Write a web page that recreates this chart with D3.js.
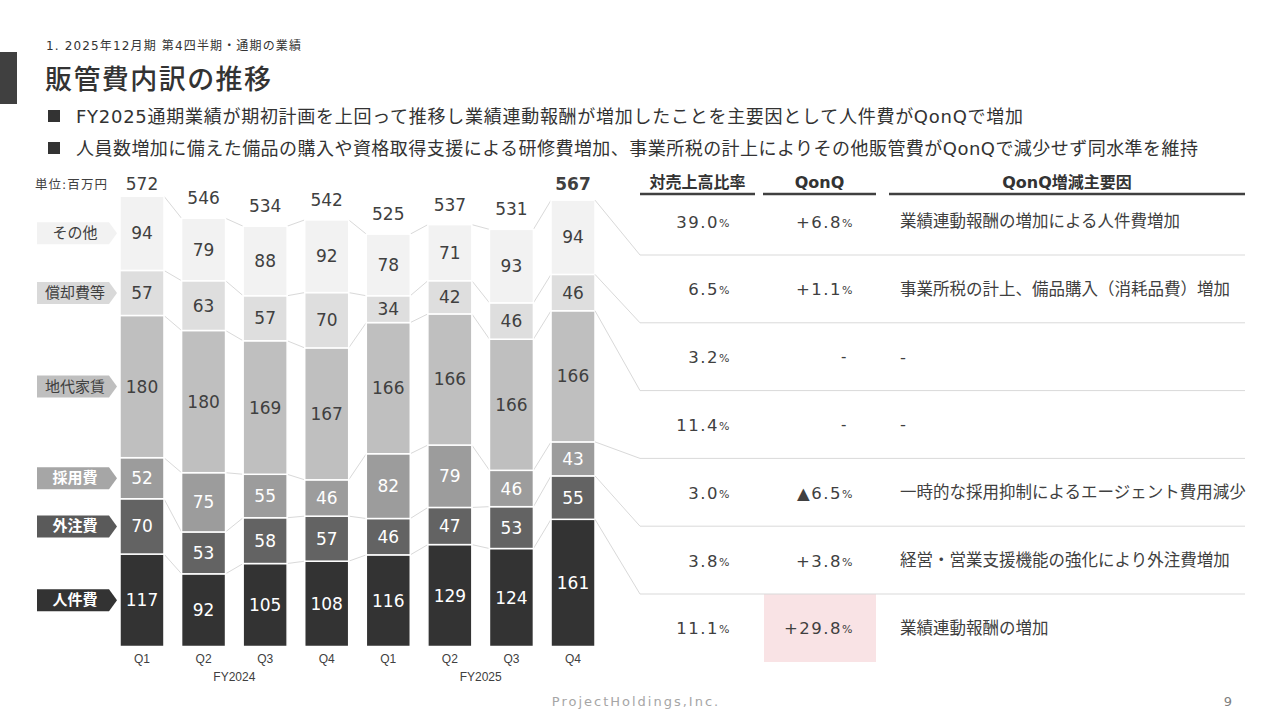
<!DOCTYPE html>
<html lang="ja">
<head>
<meta charset="utf-8">
<script src="https://cdn.jsdelivr.net/npm/d3@7"></script>
<style>
  html, body { margin: 0; padding: 0; background: #fff; }
  svg { display: block; font-family: "DejaVu Sans", "Noto Sans CJK JP", sans-serif; }
  .arial { font-family: "Liberation Sans", Arial, sans-serif; }
</style>
</head>
<body>
<svg id="chart" width="1280" height="720"></svg>
<script>
// ---------- DATA ----------
const quarterLabels = ["Q1", "Q2", "Q3", "Q4", "Q1", "Q2", "Q3", "Q4"];
const fiscalYears = ["FY2024", "FY2025"];
const categories = ["人件費", "外注費", "採用費", "地代家賃", "償却費等", "その他"]; // bottom -> top
const personnel    = [117, 92, 105, 108, 116, 129, 124, 161];
const outsourcing  = [70, 53, 58, 57, 46, 47, 53, 55];
const recruiting   = [52, 75, 55, 46, 82, 79, 46, 43];
const rent         = [180, 180, 169, 167, 166, 166, 166, 166];
const depreciation = [57, 63, 57, 70, 34, 42, 46, 46];
const other        = [94, 79, 88, 92, 78, 71, 93, 94];
const totals       = [572, 546, 534, 542, 525, 537, 531, 567];

const tableHeaders = ["対売上高比率", "QonQ", "QonQ増減主要因"];
const salesRatio = ["39.0", "6.5", "3.2", "11.4", "3.0", "3.8", "11.1"];
const qonq = ["+6.8", "+1.1", "-", "-", "▲6.5", "+3.8", "+29.8"];
const reasons = [
  "業績連動報酬の増加による人件費増加",
  "事業所税の計上、備品購入（消耗品費）増加",
  "-",
  "-",
  "一時的な採用抑制によるエージェント費用減少",
  "経営・営業支援機能の強化により外注費増加",
  "業績連動報酬の増加"
];
const highlightRow = 6; // +29.8%

// ---------- STYLE ----------
const segFill = ["#333333", "#636363", "#9c9c9c", "#bfbfbf", "#dedede", "#f2f2f2"];
const legendFill = ["#333333", "#5a5a5a", "#a6a6a6", "#bfbfbf", "#d9d9d9", "#f2f2f2"];
const segText = ["#ffffff", "#ffffff", "#ffffff", "#404040", "#404040", "#404040"];
const textCol = "#404040";

const svg = d3.select("#chart");

// ---------- HEADER ----------
svg.append("rect").attr("x", 0).attr("y", 52).attr("width", 17).attr("height", 52).attr("fill", "#404040");
svg.append("text").attr("x", 46).attr("y", 46).attr("dominant-baseline", "central")
  .attr("font-size", 12).attr("fill", "#333")
  .attr("textLength", 255).attr("lengthAdjust", "spacing")
  .text("1. 2025年12月期 第4四半期・通期の業績");
svg.append("text").attr("x", 45).attr("y", 79).attr("dominant-baseline", "central")
  .attr("font-size", 27).attr("font-weight", 500).attr("fill", "#333")
  .attr("textLength", 226).attr("lengthAdjust", "spacing")
  .text("販管費内訳の推移");
const bullets = [
  "FY2025通期業績が期初計画を上回って推移し業績連動報酬が増加したことを主要因として人件費がQonQで増加",
  "人員数増加に備えた備品の購入や資格取得支援による研修費増加、事業所税の計上によりその他販管費がQonQで減少せず同水準を維持"
];
const bulletWidths = [947, 1122];
bullets.forEach((b, i) => {
  const yy = 116 + i * 32;
  svg.append("rect").attr("x", 48).attr("y", yy - 6).attr("width", 12).attr("height", 12).attr("fill", "#333");
  svg.append("text").attr("x", 76).attr("y", yy).attr("dominant-baseline", "central")
    .attr("font-size", 18).attr("fill", "#333")
    .attr("textLength", bulletWidths[i]).attr("lengthAdjust", "spacing").text(b);
});

// ---------- SCALES ----------
const idx = d3.range(quarterLabels.length);
const x = d3.scaleBand().domain(idx).range([120, 595]).paddingInner(0.286).paddingOuter(0);
const y = d3.scaleLinear().domain([0, 600]).range([646.5, 172.5]);

const series = [personnel, outsourcing, recruiting, rent, depreciation, other];
const rows = idx.map(i => {
  const o = { i };
  categories.forEach((c, k) => o[c] = series[k][i]);
  return o;
});
const stacked = d3.stack().keys(categories)(rows);

// ---------- CONNECTOR LINES BETWEEN BARS ----------
const conn = svg.append("g").attr("stroke", "#d9d9d9").attr("stroke-width", 1).attr("fill", "none");
stacked.forEach(layer => {
  for (let i = 0; i < idx.length - 1; i++) {
    conn.append("line")
      .attr("x1", x(i) + x.bandwidth()).attr("y1", y(layer[i][1]))
      .attr("x2", x(i + 1)).attr("y2", y(layer[i + 1][1]));
  }
});

// ---------- BARS ----------
const barG = svg.append("g");
stacked.forEach((layer, k) => {
  barG.selectAll(null).data(layer).enter().append("rect")
    .attr("x", (d, i) => x(i))
    .attr("width", x.bandwidth())
    .attr("y", d => y(d[1]))
    .attr("height", d => y(d[0]) - y(d[1]))
    .attr("fill", segFill[k])
    .attr("stroke", "#fff").attr("stroke-width", 1.5);
  barG.selectAll(null).data(layer).enter().append("text")
    .attr("x", (d, i) => x(i) + x.bandwidth() / 2)
    .attr("y", d => (y(d[0]) + y(d[1])) / 2)
    .attr("text-anchor", "middle").attr("dominant-baseline", "central")
    .attr("font-size", 17).attr("fill", segText[k])
    .text(d => d.data[categories[k]]);
});

// totals
const topLayer = stacked[stacked.length - 1];
svg.selectAll(null).data(totals).enter().append("text")
  .attr("x", (d, i) => x(i) + x.bandwidth() / 2)
  .attr("y", (d, i) => Math.max(y(topLayer[i][1]) - 20, 184))
  .attr("text-anchor", "middle").attr("dominant-baseline", "central")
  .attr("font-size", 17).attr("fill", textCol)
  .attr("font-weight", (d, i) => i === totals.length - 1 ? 700 : 400)
  .text(d => d);

// unit
svg.append("text").attr("x", 35).attr("y", 184).attr("dominant-baseline", "central")
  .attr("font-size", 12.5).attr("fill", textCol)
  .attr("textLength", 72).attr("lengthAdjust", "spacing").text("単位:百万円");

// x axis labels
svg.selectAll(null).data(quarterLabels).enter().append("text")
  .attr("class", "arial")
  .attr("x", (d, i) => x(i) + x.bandwidth() / 2).attr("y", 659)
  .attr("text-anchor", "middle").attr("dominant-baseline", "central")
  .attr("font-size", 12).attr("fill", textCol).text(d => d);
fiscalYears.forEach((fy, j) => {
  const cx = (x(j * 4 + 1) + x(j * 4 + 2) + x.bandwidth()) / 2;
  svg.append("text").attr("class", "arial").attr("x", cx).attr("y", 677)
    .attr("text-anchor", "middle").attr("dominant-baseline", "central")
    .attr("font-size", 12).attr("fill", textCol).text(fy);
});

// ---------- LEGEND (arrow tags aligned with first bar) ----------
const first = stacked.map(layer => layer[0]);
categories.forEach((c, k) => {
  const cy = (y(first[k][0]) + y(first[k][1])) / 2;
  const h = 22, x0 = 37, x1 = 109, tip = 117;
  svg.append("path")
    .attr("d", `M${x0},${cy - h / 2}L${x1},${cy - h / 2}L${tip},${cy}L${x1},${cy + h / 2}L${x0},${cy + h / 2}Z`)
    .attr("fill", legendFill[k]);
  const dark = k <= 2;
  svg.append("text").attr("x", 75).attr("y", cy)
    .attr("text-anchor", "middle").attr("dominant-baseline", "central")
    .attr("font-size", 15).attr("font-weight", dark ? 700 : 400)
    .attr("fill", dark ? "#fff" : textCol).text(c);
});

// ---------- TABLE ----------
const lastI = idx.length - 1;
const lineY = d3.scaleLinear().domain([0, 1]).range([255, 322.8]); // row separator k
const rowCenter = r => lineY(r) - 33.5;
const tableLeft = 640, tableRight = 1245;

// pink highlight
svg.append("rect").attr("x", 764).attr("y", lineY(highlightRow - 1))
  .attr("width", 112).attr("height", 68).attr("fill", "#f9e3e5");

// connectors from last bar to row lines
const tbl = svg.append("g").attr("stroke", "#d9d9d9").attr("stroke-width", 1).attr("fill", "none");
for (let k = 0; k < categories.length; k++) {
  const layer = stacked[categories.length - 1 - k];
  tbl.append("polyline").attr("points", [
    [x(lastI) + x.bandwidth(), y(layer[lastI][1])],
    [tableLeft, lineY(k)],
    [tableRight, lineY(k)]
  ].map(p => p.join(",")).join(" "));
}

// headers
const headerCols = [[640, 755], [763, 876], [889, 1245]];
tableHeaders.forEach((h, j) => {
  const [a, b] = headerCols[j];
  svg.append("text").attr("x", (a + b) / 2).attr("y", 182)
    .attr("text-anchor", "middle").attr("dominant-baseline", "central")
    .attr("font-size", 16).attr("font-weight", 700).attr("fill", "#333").text(h);
  svg.append("line").attr("x1", a).attr("x2", b).attr("y1", 194).attr("y2", 194)
    .attr("stroke", "#404040").attr("stroke-width", 2.5);
});

function pct(sel, value, xr, yy) {
  const t = sel.append("text").attr("x", xr).attr("y", yy)
    .attr("text-anchor", "end").attr("dominant-baseline", "central")
    .attr("fill", textCol).attr("letter-spacing", 1.5);
  if (value === "-") {
    t.attr("font-size", 15).attr("x", xr - 6).text("-");
    return;
  }
  t.append("tspan").attr("font-size", 16.5).text(value);
  t.append("tspan").attr("font-size", 11).attr("dy", 1).text("%");
}
salesRatio.forEach((v, r) => pct(svg, v, 731, rowCenter(r)));
qonq.forEach((v, r) => pct(svg, v, 854, rowCenter(r)));
reasons.forEach((t, r) => {
  svg.append("text").attr("x", 900).attr("y", rowCenter(r))
    .attr("dominant-baseline", "central").attr("font-size", 16.5)
    .attr("fill", textCol).text(t);
});

// ---------- FOOTER ----------
svg.append("text").attr("x", 636).attr("y", 701).attr("text-anchor", "middle")
  .attr("dominant-baseline", "central").attr("font-size", 13).attr("letter-spacing", 2)
  .attr("fill", "#a6a6a6").text("ProjectHoldings,Inc.");
svg.append("text").attr("x", 1228).attr("y", 701).attr("text-anchor", "middle")
  .attr("dominant-baseline", "central").attr("font-size", 13)
  .attr("fill", "#808080").text("9");
</script>
</body>
</html>
